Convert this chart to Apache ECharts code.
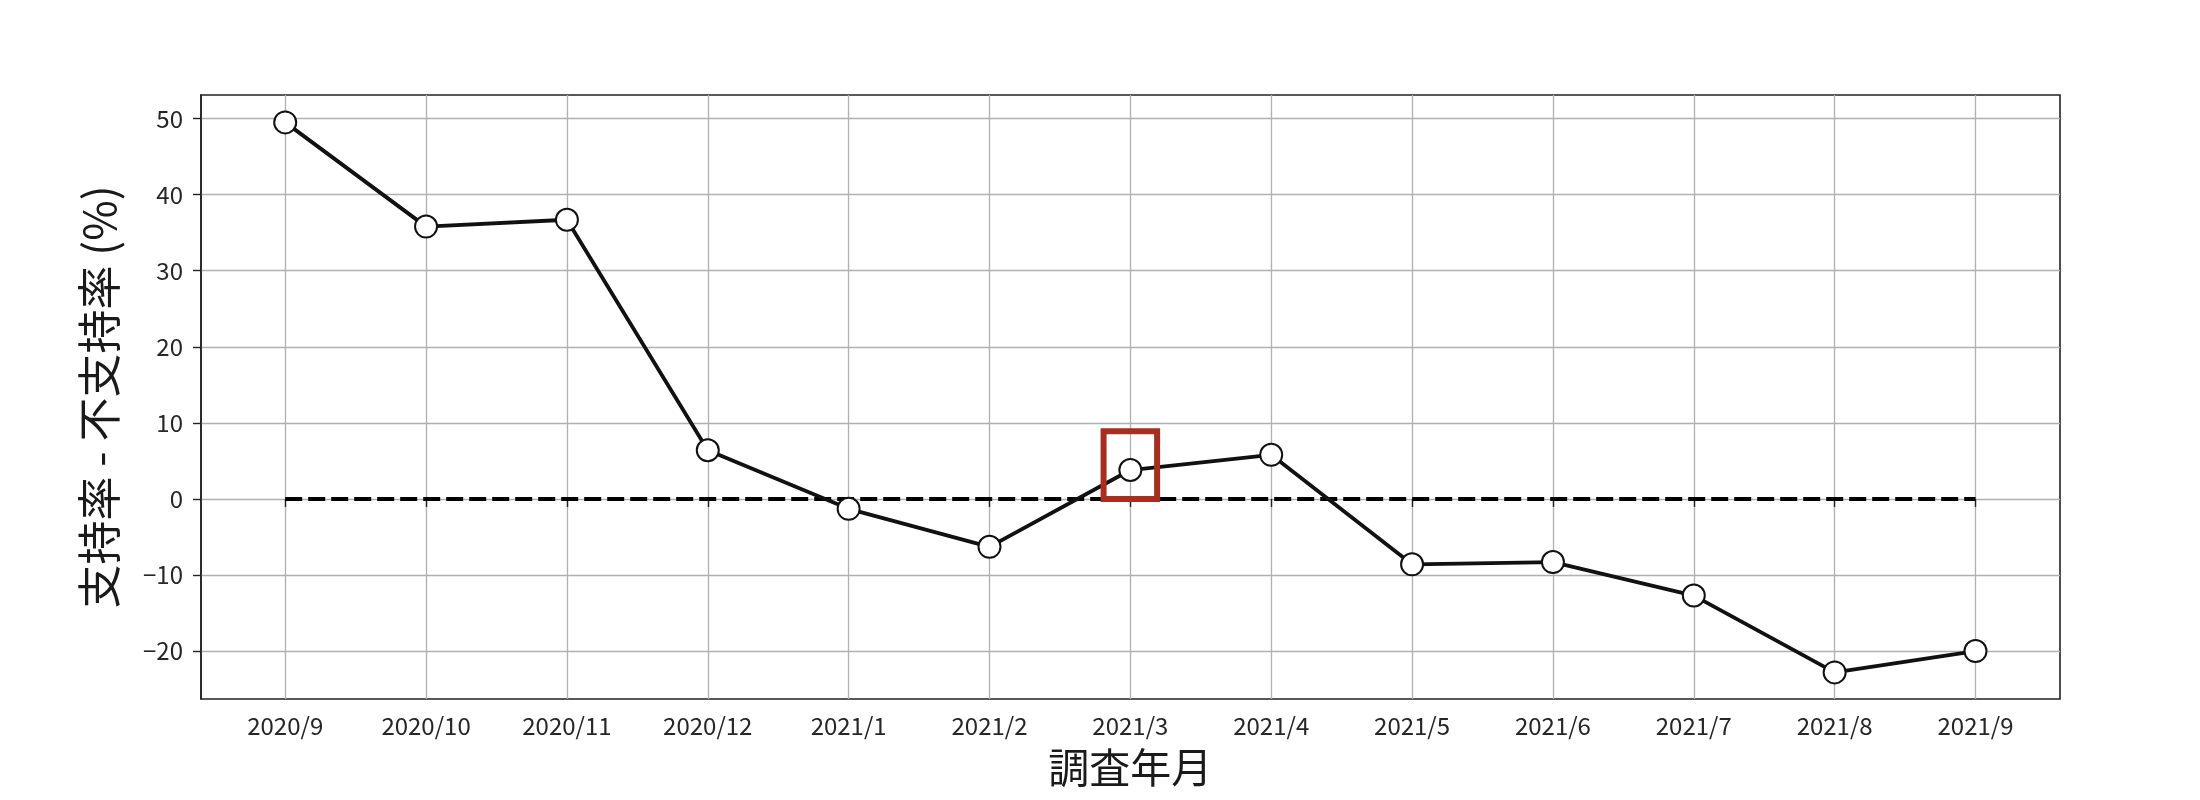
<!DOCTYPE html>
<html>
<head>
<meta charset="utf-8">
<script src="https://cdn.jsdelivr.net/npm/echarts@6/dist/echarts.min.js"></script>
<style>
html,body{margin:0;padding:0;background:#fff;}
#chart{width:2200px;height:800px;}
</style>
</head>
<body>
<div id="chart"></div>
<script>
// ---- data ----
const categories = ['2020/9','2020/10','2020/11','2020/12','2021/1','2021/2','2021/3','2021/4','2021/5','2021/6','2021/7','2021/8','2021/9'];
const netApproval = [49.5, 35.8, 36.7, 6.4, -1.3, -6.3, 3.8, 5.8, -8.6, -8.3, -12.7, -22.8, -20.0];
const zeroLine = [0,0,0,0,0,0,0,0,0,0,0,0,0];
const yTicks = [-20, -10, 0, 10, 20, 30, 40, 50];
const yRange = [-26.3, 53.1];
const highlightX = [5.81, 6.19];
const highlightY = [0, 8.9];
const xTitle = '調査年月';
const yTitle = '支持率 - 不支持率 (%)';

const FONT = '"Noto Sans CJK JP", "Noto Sans", sans-serif';
const gridColor = '#b0b0b0';
const frameColor = '#222222';

const chart = echarts.init(document.getElementById('chart'), null, {renderer: 'canvas'});
chart.setOption({
  animation: false,
  backgroundColor: '#ffffff',
  grid: [
    {left: 201, right: 140, top: 95, bottom: 101, show: true, borderColor: frameColor, borderWidth: 1.6, backgroundColor: 'transparent'},
    {left: 285.2, right: 224.5, top: 95, bottom: 101}
  ],
  xAxis: [
    {gridIndex: 0, type: 'value', min: 0, max: 1, show: false},
    {
      gridIndex: 1, type: 'value', min: 0, max: categories.length - 1, interval: 1,
      position: 'bottom',
      axisLine: {show: false},
      axisTick: {show: true, length: 8, inside: false, lineStyle: {color: frameColor, width: 1.4}},
      axisLabel: {
        margin: 15, fontSize: 24, color: '#262626', fontFamily: FONT,
        formatter: v => categories[Math.round(v)] || ''
      },
      splitLine: {show: true, lineStyle: {color: gridColor, width: 1.3}},
      name: xTitle, nameLocation: 'middle', nameGap: 48,
      nameTextStyle: {fontSize: 41, color: '#1a1a1a', fontFamily: FONT}
    }
  ],
  yAxis: [
    {
      gridIndex: 0, type: 'value', min: yRange[0], max: yRange[1],
      splitNumber: 8, minInterval: 10, maxInterval: 10,
      axisLine: {show: true, lineStyle: {color: frameColor, width: 1.6}},
      axisTick: {show: true, length: 8, inside: false, customValues: yTicks, lineStyle: {color: frameColor, width: 1.4}},
      axisLabel: {
        margin: 18, fontSize: 24, color: '#262626', fontFamily: FONT,
        customValues: yTicks,
        formatter: v => (Math.abs(v % 10) < 1e-6 ? String(Math.round(v)).replace('-', '\u2212') : '')
      },
      splitLine: {show: true, lineStyle: {color: gridColor, width: 1.3}},
      name: yTitle, nameLocation: 'middle', nameGap: 80, nameRotate: 90,
      nameTextStyle: {fontSize: 44, color: '#1a1a1a', fontFamily: FONT}
    },
    {gridIndex: 1, type: 'value', min: yRange[0], max: yRange[1], show: false, splitLine: {show: false}}
  ],
  series: [
    {
      name: 'zero', type: 'line', xAxisIndex: 1, yAxisIndex: 1,
      data: zeroLine.map((v, i) => [i, v]),
      showSymbol: false, symbol: 'none', z: 2,
      lineStyle: {color: '#000', width: 4, type: [17, 6]}
    },
    {
      name: 'net', type: 'line', xAxisIndex: 1, yAxisIndex: 1,
      data: netApproval.map((v, i) => [i, v]),
      symbol: 'circle', symbolSize: 22, showAllSymbol: true, z: 3,
      lineStyle: {color: '#111', width: 3.8},
      itemStyle: {color: '#ffffff', borderColor: '#111', borderWidth: 2},
      markArea: {
        silent: true, z: 10,
        itemStyle: {color: 'rgba(0,0,0,0)', borderColor: '#a82e1f', borderWidth: 6},
        label: {show: false},
        data: [[{xAxis: highlightX[0], yAxis: highlightY[0]}, {xAxis: highlightX[1], yAxis: highlightY[1]}]]
      }
    }
  ]
});
</script>
</body>
</html>
